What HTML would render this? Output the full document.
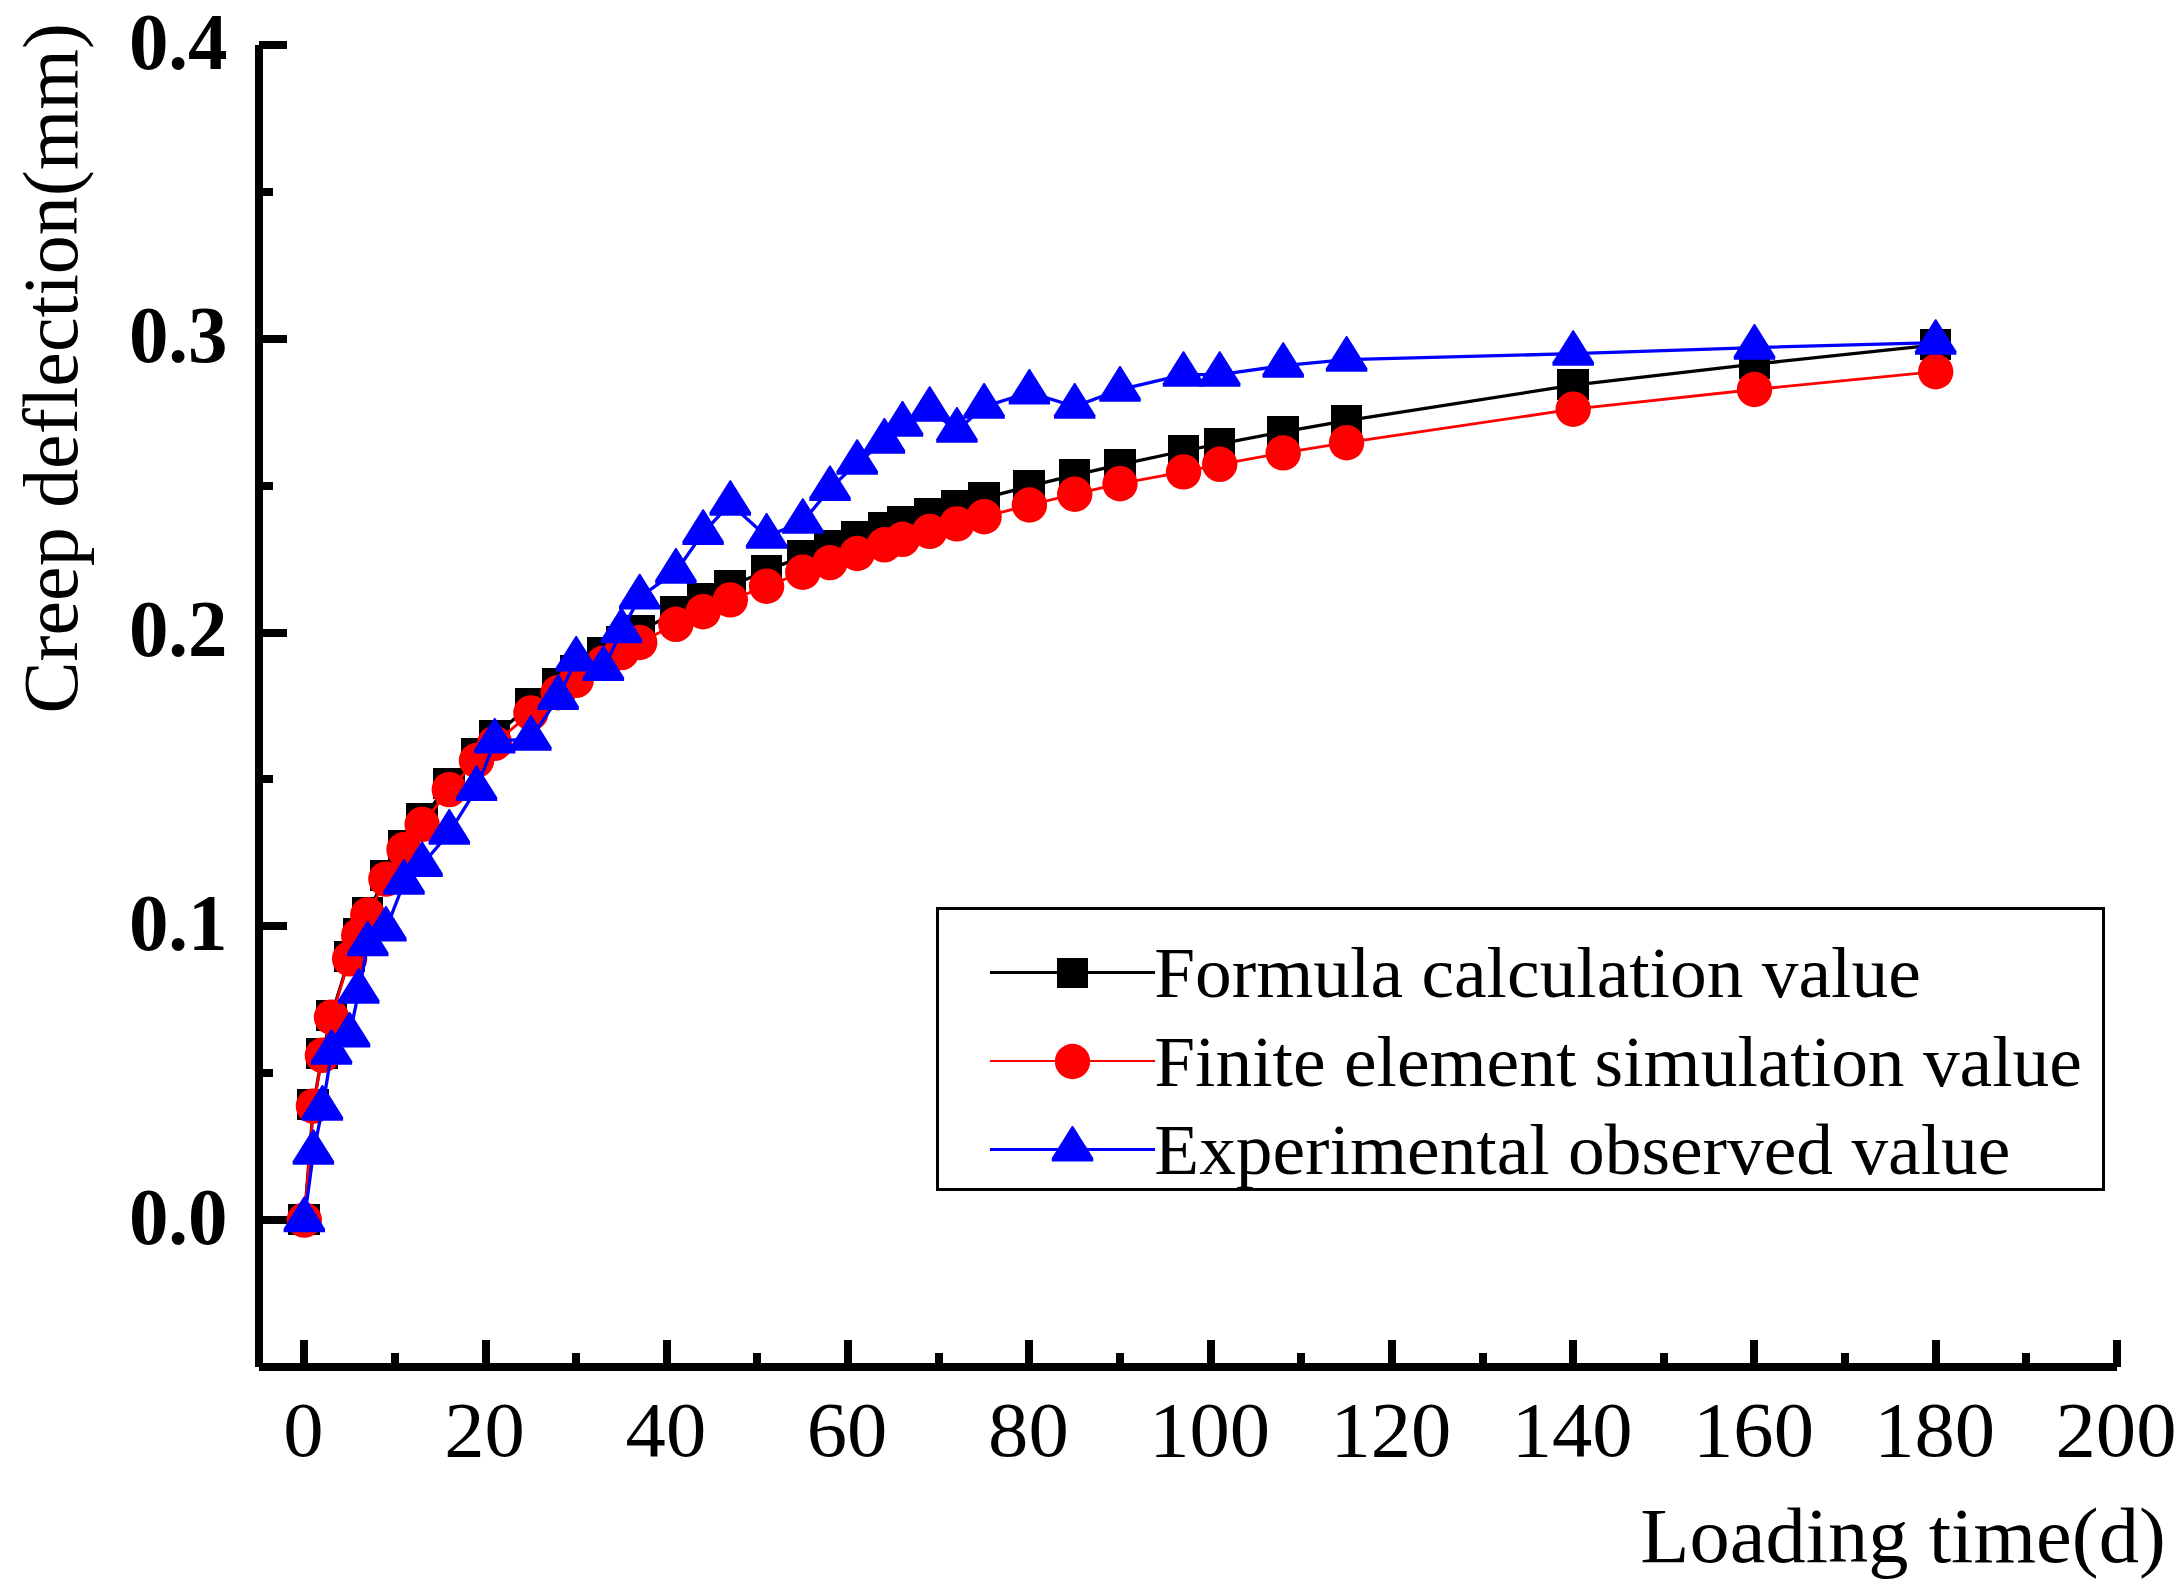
<!DOCTYPE html>
<html lang="en"><head><meta charset="utf-8"><title>Creep deflection vs loading time</title>
<style>html,body{margin:0;padding:0;background:#fff}body{width:2182px;height:1592px;overflow:hidden}svg{display:block}text{font-family:"Liberation Serif",serif;fill:#000}</style>
</head><body>
<svg width="2182" height="1592" viewBox="0 0 2182 1592" shape-rendering="crispEdges">
<rect width="2182" height="1592" fill="#fff"/>
<g fill="#000">
<rect x="255" y="45" width="8" height="1322"/>
<rect x="259" y="1363" width="1858" height="8"/>
<rect x="300" y="1340" width="8" height="27"/>
<rect x="391" y="1353" width="8" height="14"/>
<rect x="482" y="1340" width="8" height="27"/>
<rect x="572" y="1353" width="8" height="14"/>
<rect x="663" y="1340" width="8" height="27"/>
<rect x="753" y="1353" width="8" height="14"/>
<rect x="844" y="1340" width="8" height="27"/>
<rect x="935" y="1353" width="8" height="14"/>
<rect x="1025" y="1340" width="8" height="27"/>
<rect x="1116" y="1353" width="8" height="14"/>
<rect x="1207" y="1340" width="8" height="27"/>
<rect x="1297" y="1353" width="8" height="14"/>
<rect x="1388" y="1340" width="8" height="27"/>
<rect x="1479" y="1353" width="8" height="14"/>
<rect x="1569" y="1340" width="8" height="27"/>
<rect x="1660" y="1353" width="8" height="14"/>
<rect x="1750" y="1340" width="8" height="27"/>
<rect x="1841" y="1353" width="8" height="14"/>
<rect x="1932" y="1340" width="8" height="27"/>
<rect x="2022" y="1353" width="8" height="14"/>
<rect x="2113" y="1340" width="8" height="27"/>
<rect x="259" y="1216" width="28" height="8"/>
<rect x="259" y="1069" width="14" height="8"/>
<rect x="259" y="922" width="28" height="8"/>
<rect x="259" y="775" width="14" height="8"/>
<rect x="259" y="629" width="28" height="8"/>
<rect x="259" y="482" width="14" height="8"/>
<rect x="259" y="335" width="28" height="8"/>
<rect x="259" y="188" width="14" height="8"/>
<rect x="259" y="41" width="28" height="8"/>
</g>
<text transform="translate(303.3,1455.6) scale(1.04,1)" font-size="77.5" text-anchor="middle">0</text>
<text transform="translate(484.6,1455.6) scale(1.04,1)" font-size="77.5" text-anchor="middle">20</text>
<text transform="translate(665.9,1455.6) scale(1.04,1)" font-size="77.5" text-anchor="middle">40</text>
<text transform="translate(847.1,1455.6) scale(1.04,1)" font-size="77.5" text-anchor="middle">60</text>
<text transform="translate(1028.4,1455.6) scale(1.04,1)" font-size="77.5" text-anchor="middle">80</text>
<text transform="translate(1209.7,1455.6) scale(1.04,1)" font-size="77.5" text-anchor="middle">100</text>
<text transform="translate(1390.9,1455.6) scale(1.04,1)" font-size="77.5" text-anchor="middle">120</text>
<text transform="translate(1572.2,1455.6) scale(1.04,1)" font-size="77.5" text-anchor="middle">140</text>
<text transform="translate(1753.5,1455.6) scale(1.04,1)" font-size="77.5" text-anchor="middle">160</text>
<text transform="translate(1934.7,1455.6) scale(1.04,1)" font-size="77.5" text-anchor="middle">180</text>
<text transform="translate(2116,1455.6) scale(1.04,1)" font-size="77.5" text-anchor="middle">200</text>
<text transform="translate(227.6,1243.7) scale(0.975,1)" font-size="81" text-anchor="end" font-weight="bold">0.0</text>
<text transform="translate(227.6,949.9) scale(0.975,1)" font-size="81" text-anchor="end" font-weight="bold">0.1</text>
<text transform="translate(227.6,656.1) scale(0.975,1)" font-size="81" text-anchor="end" font-weight="bold">0.2</text>
<text transform="translate(227.6,362.4) scale(0.975,1)" font-size="81" text-anchor="end" font-weight="bold">0.3</text>
<text transform="translate(227.6,68.6) scale(0.975,1)" font-size="81" text-anchor="end" font-weight="bold">0.4</text>
<text transform="translate(1640.3,1562) scale(1.039,1)" font-size="77.5" text-anchor="start">Loading time(d)</text>
<text transform="translate(76.8,713.4) rotate(-90) scale(1,1.015)" font-size="77.95">Creep deflection(mm)</text>
<polyline fill="none" stroke="#000" stroke-width="3.3" shape-rendering="auto" points="304.3,1220.1 313.4,1105.3 322.4,1053.8 331.5,1015.5 349.6,957.3 358.7,933.8 367.8,912.8 385.9,876.4 404,845.5 422.1,818.6 449.3,783.7 476.5,753.8 494.7,736 530.9,704.4 558.1,683.5 576.2,670.7 603.4,652.9 621.5,641.8 639.7,631.4 675.9,612 703.1,598.6 730.3,586.1 766.6,570.6 802.8,556.4 830,546.3 857.2,536.8 884.4,527.8 902.5,522 929.7,513.7 956.9,505.8 984.1,498.2 1029.4,486.2 1074.7,475.1 1120,464.6 1183.5,451 1219.7,443.8 1283.2,431.8 1346.6,420.7 1573.2,385.2 1754.5,364.2 1935.7,344.9"/>
<g fill="#000">
<rect x="288.3" y="1204.1" width="31.6" height="31"/>
<rect x="297.4" y="1089.3" width="31.6" height="31"/>
<rect x="306.4" y="1037.8" width="31.6" height="31"/>
<rect x="315.5" y="999.5" width="31.6" height="31"/>
<rect x="333.6" y="941.3" width="31.6" height="31"/>
<rect x="342.7" y="917.8" width="31.6" height="31"/>
<rect x="351.8" y="896.8" width="31.6" height="31"/>
<rect x="369.9" y="860.4" width="31.6" height="31"/>
<rect x="388" y="829.5" width="31.6" height="31"/>
<rect x="406.1" y="802.6" width="31.6" height="31"/>
<rect x="433.3" y="767.7" width="31.6" height="31"/>
<rect x="460.5" y="737.8" width="31.6" height="31"/>
<rect x="478.7" y="720" width="31.6" height="31"/>
<rect x="514.9" y="688.4" width="31.6" height="31"/>
<rect x="542.1" y="667.5" width="31.6" height="31"/>
<rect x="560.2" y="654.7" width="31.6" height="31"/>
<rect x="587.4" y="636.9" width="31.6" height="31"/>
<rect x="605.5" y="625.8" width="31.6" height="31"/>
<rect x="623.7" y="615.4" width="31.6" height="31"/>
<rect x="659.9" y="596" width="31.6" height="31"/>
<rect x="687.1" y="582.6" width="31.6" height="31"/>
<rect x="714.3" y="570.1" width="31.6" height="31"/>
<rect x="750.6" y="554.6" width="31.6" height="31"/>
<rect x="786.8" y="540.4" width="31.6" height="31"/>
<rect x="814" y="530.3" width="31.6" height="31"/>
<rect x="841.2" y="520.8" width="31.6" height="31"/>
<rect x="868.4" y="511.8" width="31.6" height="31"/>
<rect x="886.5" y="506" width="31.6" height="31"/>
<rect x="913.7" y="497.7" width="31.6" height="31"/>
<rect x="940.9" y="489.8" width="31.6" height="31"/>
<rect x="968.1" y="482.2" width="31.6" height="31"/>
<rect x="1013.4" y="470.2" width="31.6" height="31"/>
<rect x="1058.7" y="459.1" width="31.6" height="31"/>
<rect x="1104" y="448.6" width="31.6" height="31"/>
<rect x="1167.5" y="435" width="31.6" height="31"/>
<rect x="1203.7" y="427.8" width="31.6" height="31"/>
<rect x="1267.2" y="415.8" width="31.6" height="31"/>
<rect x="1330.6" y="404.7" width="31.6" height="31"/>
<rect x="1557.2" y="369.2" width="31.6" height="31"/>
<rect x="1738.5" y="348.2" width="31.6" height="31"/>
<rect x="1919.7" y="328.9" width="31.6" height="31"/>
</g>
<polyline fill="none" stroke="#f00" stroke-width="2.8" shape-rendering="auto" points="304.3,1220.1 313.4,1106.1 322.4,1055.3 331.5,1017.2 349.6,958.8 358.7,935.6 367.8,914.9 385.9,879.1 404,849.6 422.1,824.4 449.3,789.6 476.5,760.5 494.7,743.3 530.9,712.9 558.1,692.7 576.2,680.3 603.4,663.2 621.5,652.6 639.7,642.5 675.9,624.3 703.1,611.7 730.3,599.9 766.6,586.2 802.8,572.2 830,562.6 857.2,553.5 884.4,544.8 902.5,539.3 929.7,531.4 956.9,523.9 984.1,516.7 1029.4,505 1074.7,494.2 1120,483.7 1183.5,471.9 1219.7,464.3 1283.2,452.9 1346.6,442.7 1573.2,409.2 1754.5,389.5 1935.7,371.7"/>
<g fill="#f00" shape-rendering="auto">
<circle cx="304.3" cy="1220.1" r="17.7"/>
<circle cx="313.4" cy="1106.1" r="17.7"/>
<circle cx="322.4" cy="1055.3" r="17.7"/>
<circle cx="331.5" cy="1017.2" r="17.7"/>
<circle cx="349.6" cy="958.8" r="17.7"/>
<circle cx="358.7" cy="935.6" r="17.7"/>
<circle cx="367.8" cy="914.9" r="17.7"/>
<circle cx="385.9" cy="879.1" r="17.7"/>
<circle cx="404" cy="849.6" r="17.7"/>
<circle cx="422.1" cy="824.4" r="17.7"/>
<circle cx="449.3" cy="789.6" r="17.7"/>
<circle cx="476.5" cy="760.5" r="17.7"/>
<circle cx="494.7" cy="743.3" r="17.7"/>
<circle cx="530.9" cy="712.9" r="17.7"/>
<circle cx="558.1" cy="692.7" r="17.7"/>
<circle cx="576.2" cy="680.3" r="17.7"/>
<circle cx="603.4" cy="663.2" r="17.7"/>
<circle cx="621.5" cy="652.6" r="17.7"/>
<circle cx="639.7" cy="642.5" r="17.7"/>
<circle cx="675.9" cy="624.3" r="17.7"/>
<circle cx="703.1" cy="611.7" r="17.7"/>
<circle cx="730.3" cy="599.9" r="17.7"/>
<circle cx="766.6" cy="586.2" r="17.7"/>
<circle cx="802.8" cy="572.2" r="17.7"/>
<circle cx="830" cy="562.6" r="17.7"/>
<circle cx="857.2" cy="553.5" r="17.7"/>
<circle cx="884.4" cy="544.8" r="17.7"/>
<circle cx="902.5" cy="539.3" r="17.7"/>
<circle cx="929.7" cy="531.4" r="17.7"/>
<circle cx="956.9" cy="523.9" r="17.7"/>
<circle cx="984.1" cy="516.7" r="17.7"/>
<circle cx="1029.4" cy="505" r="17.7"/>
<circle cx="1074.7" cy="494.2" r="17.7"/>
<circle cx="1120" cy="483.7" r="17.7"/>
<circle cx="1183.5" cy="471.9" r="17.7"/>
<circle cx="1219.7" cy="464.3" r="17.7"/>
<circle cx="1283.2" cy="452.9" r="17.7"/>
<circle cx="1346.6" cy="442.7" r="17.7"/>
<circle cx="1573.2" cy="409.2" r="17.7"/>
<circle cx="1754.5" cy="389.5" r="17.7"/>
<circle cx="1935.7" cy="371.7" r="17.7"/>
</g>
<polyline fill="none" stroke="#00f" stroke-width="3.3" shape-rendering="auto" points="304.3,1220.1 313.4,1152.7 322.4,1108.6 331.5,1052.7 349.6,1035.4 358.7,991.7 367.8,944.2 385.9,929.4 404,882.6 422.1,865 449.3,832.6 476.5,788.9 494.7,741.5 530.9,738.6 558.1,697.8 576.2,659.5 603.4,669 621.5,631.1 639.7,597.2 675.9,571.6 703.1,532.8 730.3,503.7 766.6,536.6 802.8,521.7 830,488.9 857.2,462.7 884.4,441.6 902.5,424.6 929.7,409.7 956.9,430.6 984.1,406.6 1029.4,392.4 1074.7,406.6 1120,389.6 1183.5,374.7 1219.7,374.7 1283.2,365.7 1346.6,359.6 1573.2,353.7 1754.5,347.6 1935.7,342.7"/>
<g fill="#00f" shape-rendering="auto">
<polygon points="303.7,1196.6 304.9,1196.6 325,1228.7 325,1232.2 283.6,1232.2 283.6,1228.7"/>
<polygon points="312.8,1129.2 314,1129.2 334.1,1161.3 334.1,1164.8 292.7,1164.8 292.7,1161.3"/>
<polygon points="321.8,1085.1 323,1085.1 343.1,1117.2 343.1,1120.7 301.7,1120.7 301.7,1117.2"/>
<polygon points="330.9,1029.2 332.1,1029.2 352.2,1061.3 352.2,1064.8 310.8,1064.8 310.8,1061.3"/>
<polygon points="349,1011.9 350.2,1011.9 370.3,1044 370.3,1047.5 328.9,1047.5 328.9,1044"/>
<polygon points="358.1,968.2 359.3,968.2 379.4,1000.3 379.4,1003.8 338,1003.8 338,1000.3"/>
<polygon points="367.2,920.7 368.4,920.7 388.5,952.8 388.5,956.3 347.1,956.3 347.1,952.8"/>
<polygon points="385.3,905.9 386.5,905.9 406.6,938 406.6,941.5 365.2,941.5 365.2,938"/>
<polygon points="403.4,859.1 404.6,859.1 424.7,891.2 424.7,894.7 383.3,894.7 383.3,891.2"/>
<polygon points="421.5,841.5 422.7,841.5 442.8,873.6 442.8,877.1 401.4,877.1 401.4,873.6"/>
<polygon points="448.7,809.1 449.9,809.1 470,841.2 470,844.8 428.6,844.8 428.6,841.2"/>
<polygon points="475.9,765.4 477.1,765.4 497.2,797.5 497.2,801 455.8,801 455.8,797.5"/>
<polygon points="494.1,718 495.3,718 515.4,750.1 515.4,753.6 474,753.6 474,750.1"/>
<polygon points="530.3,715.1 531.5,715.1 551.6,747.2 551.6,750.7 510.2,750.7 510.2,747.2"/>
<polygon points="557.5,674.2 558.7,674.2 578.8,706.4 578.8,709.9 537.4,709.9 537.4,706.4"/>
<polygon points="575.6,636 576.8,636 596.9,668.1 596.9,671.6 555.5,671.6 555.5,668.1"/>
<polygon points="602.8,645.5 604,645.5 624.1,677.6 624.1,681.1 582.7,681.1 582.7,677.6"/>
<polygon points="620.9,607.6 622.1,607.6 642.2,639.8 642.2,643.2 600.8,643.2 600.8,639.8"/>
<polygon points="639.1,573.8 640.3,573.8 660.4,605.9 660.4,609.4 619,609.4 619,605.9"/>
<polygon points="675.3,548.1 676.5,548.1 696.6,580.2 696.6,583.7 655.2,583.7 655.2,580.2"/>
<polygon points="702.5,509.3 703.7,509.3 723.8,541.4 723.8,544.9 682.4,544.9 682.4,541.4"/>
<polygon points="729.7,480.2 730.9,480.2 751,512.3 751,515.8 709.6,515.8 709.6,512.3"/>
<polygon points="766,513.1 767.2,513.1 787.3,545.2 787.3,548.8 745.9,548.8 745.9,545.2"/>
<polygon points="802.2,498.2 803.4,498.2 823.5,530.3 823.5,533.8 782.1,533.8 782.1,530.3"/>
<polygon points="829.4,465.4 830.6,465.4 850.7,497.5 850.7,501 809.3,501 809.3,497.5"/>
<polygon points="856.6,439.2 857.8,439.2 877.9,471.3 877.9,474.8 836.5,474.8 836.5,471.3"/>
<polygon points="883.8,418.1 885,418.1 905.1,450.2 905.1,453.7 863.7,453.7 863.7,450.2"/>
<polygon points="901.9,401.1 903.1,401.1 923.2,433.2 923.2,436.7 881.8,436.7 881.8,433.2"/>
<polygon points="929.1,386.2 930.3,386.2 950.4,418.3 950.4,421.8 909,421.8 909,418.3"/>
<polygon points="956.3,407.1 957.5,407.1 977.6,439.2 977.6,442.8 936.2,442.8 936.2,439.2"/>
<polygon points="983.5,383.1 984.7,383.1 1004.8,415.2 1004.8,418.8 963.4,418.8 963.4,415.2"/>
<polygon points="1028.8,368.9 1030,368.9 1050.1,401.1 1050.1,404.6 1008.7,404.6 1008.7,401.1"/>
<polygon points="1074.1,383.1 1075.3,383.1 1095.4,415.2 1095.4,418.8 1054,418.8 1054,415.2"/>
<polygon points="1119.4,366.1 1120.6,366.1 1140.7,398.2 1140.7,401.7 1099.3,401.7 1099.3,398.2"/>
<polygon points="1182.9,351.2 1184.1,351.2 1204.2,383.3 1204.2,386.8 1162.8,386.8 1162.8,383.3"/>
<polygon points="1219.1,351.2 1220.3,351.2 1240.4,383.3 1240.4,386.8 1199,386.8 1199,383.3"/>
<polygon points="1282.6,342.2 1283.8,342.2 1303.9,374.3 1303.9,377.8 1262.5,377.8 1262.5,374.3"/>
<polygon points="1346,336.1 1347.2,336.1 1367.3,368.2 1367.3,371.7 1325.9,371.7 1325.9,368.2"/>
<polygon points="1572.6,330.2 1573.8,330.2 1593.9,362.3 1593.9,365.8 1552.5,365.8 1552.5,362.3"/>
<polygon points="1753.9,324.1 1755.1,324.1 1775.2,356.2 1775.2,359.8 1733.8,359.8 1733.8,356.2"/>
<polygon points="1935.1,319.2 1936.3,319.2 1956.4,351.3 1956.4,354.8 1915,354.8 1915,351.3"/>
</g>
<rect x="937.5" y="908.5" width="1166" height="281" fill="#fff" stroke="#000" stroke-width="3"/>
<line x1="990" x2="1155" y1="972.5" y2="972.5" stroke="#000" stroke-width="3"/>
<rect x="1057" y="958" width="31" height="30" fill="#000"/>
<text transform="translate(1154.3,997) scale(1.0268,1)" font-size="71.5" text-anchor="start">Formula calculation value</text>
<line x1="990" x2="1155" y1="1061" y2="1061" stroke="#f00" stroke-width="2"/>
<circle cx="1072.5" cy="1061.5" r="17.7" fill="#f00" shape-rendering="auto"/>
<text transform="translate(1154.3,1085.5) scale(1.0268,1)" font-size="71.5" text-anchor="start">Finite element simulation value</text>
<line x1="990" x2="1155" y1="1149.5" y2="1149.5" stroke="#00f" stroke-width="3"/>
<g fill="#00f" shape-rendering="auto"><polygon points="1071.9,1126 1073.1,1126 1093.2,1158.1 1093.2,1161.6 1051.8,1161.6 1051.8,1158.1"/></g>
<text transform="translate(1154.3,1174) scale(1.0268,1)" font-size="71.5" text-anchor="start">Experimental observed value</text>
</svg></body></html>
